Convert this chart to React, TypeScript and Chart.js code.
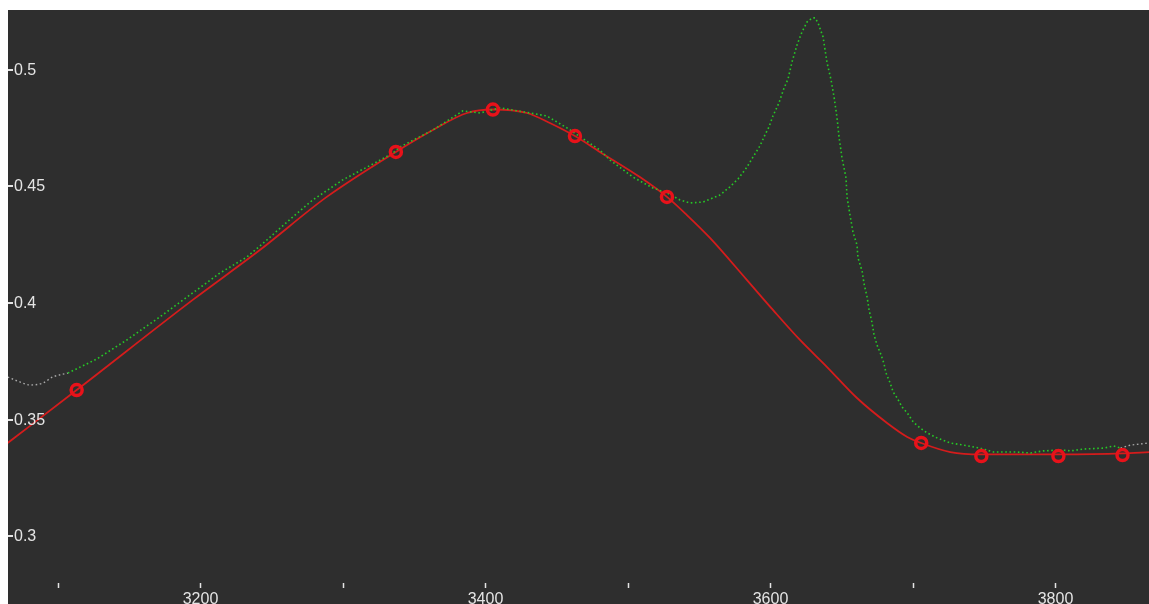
import React, { useEffect, useRef } from "react";
import { Chart, registerables } from "chart.js";

Chart.register(...registerables);

// Axis ranges
const X_MIN = 3065;
const X_MAX = 3866;
const Y_MIN = 0.2704;
const Y_MAX = 0.5253;

// Tick positions
const xTicks = [3100, 3200, 3300, 3400, 3500, 3600, 3700, 3800];
const xTickLabels = [3200, 3400, 3600, 3800];
const yTicks = [0.3, 0.35, 0.4, 0.45, 0.5];

// Measured signal (green dotted)
const measX = [
  3107.0, 3127.3, 3148.4, 3171.6, 3194.7, 3213.7, 3232.7, 3246.7, 3264.9, 3279.0,
  3300.0, 3323.9, 3335.2, 3340.1, 3363.3, 3384.3, 3396.3, 3410.3, 3431.4, 3443.3,
  3457.4, 3480.5, 3487.6, 3503.7, 3517.8, 3527.6, 3536.7, 3543.8, 3552.9, 3564.8,
  3571.8, 3577.5, 3583.8, 3588.0, 3592.9, 3596.4, 3599.2, 3602.0, 3606.2, 3609.8,
  3612.6, 3615.4, 3618.9, 3622.4, 3626.0, 3629.5, 3631.6, 3633.7, 3637.2, 3640.0,
  3642.8, 3644.9, 3647.0, 3648.4, 3650.5, 3653.3, 3654.0, 3656.1, 3658.2, 3661.0,
  3661.7, 3664.6, 3666.0, 3668.1, 3669.5, 3671.6, 3673.0, 3675.1, 3677.9, 3680.0,
  3681.4, 3684.3, 3686.4, 3689.2, 3692.7, 3696.3, 3700.5, 3705.4, 3710.3, 3717.4,
  3726.5, 3735.7, 3747.6, 3756.8, 3773.7, 3782.8, 3791.9, 3803.9, 3810.9, 3820.0,
  3834.1, 3841.1, 3846.0,
];
const measY = [
  0.3695, 0.3755, 0.3837, 0.3936, 0.4039, 0.4124, 0.4193, 0.4266, 0.4365, 0.4438,
  0.4524, 0.4601, 0.4639, 0.4665, 0.4738, 0.482, 0.4811, 0.4833, 0.4811, 0.4798,
  0.4747, 0.4652, 0.4609, 0.4536, 0.4489, 0.4468, 0.4438, 0.4425, 0.4429, 0.4459,
  0.4494, 0.4528, 0.4579, 0.4622, 0.467, 0.4717, 0.4751, 0.4798, 0.4854, 0.4918,
  0.4957, 0.503, 0.5103, 0.5159, 0.5202, 0.5219, 0.5219, 0.5197, 0.5137, 0.5026,
  0.4953, 0.488, 0.479, 0.4708, 0.4618, 0.4532, 0.4451, 0.4373, 0.43, 0.4245,
  0.4189, 0.4133, 0.4077, 0.4021, 0.3966, 0.391, 0.3858, 0.3815, 0.3773, 0.3734,
  0.3695, 0.3652, 0.3614, 0.3588, 0.3549, 0.3524, 0.3485, 0.3459, 0.3438, 0.3416,
  0.3395, 0.3386, 0.3373, 0.3356, 0.3356, 0.3352, 0.3361, 0.3365, 0.3361, 0.3369,
  0.3373, 0.3382, 0.3373,
];

// Signal outside the fitted window (grey dotted)
const outLeftX = [3064.8, 3073.3, 3080.3, 3089.4, 3096.4, 3107.0];
const outLeftY = [0.3678, 0.3657, 0.3644, 0.3652, 0.3678, 0.3695];
const outRightX = [3846.0, 3853.1, 3866.1];
const outRightY = [0.3373, 0.3386, 0.3395];

// Fitted curve (red)
const fitX = [
  3064.8, 3113.2, 3194.7, 3241.8, 3288.8, 3337.3, 3363.3, 3387.2, 3405.4, 3429.3,
  3445.4, 3463.0, 3480.5, 3508.6, 3527.6, 3541.6, 3557.8, 3583.8, 3602.0, 3621.0,
  3640.0, 3661.0, 3682.1, 3696.3, 3706.1, 3726.5, 3748.3, 3802.4, 3847.4, 3866.1,
];
const fitY = [
  0.3395, 0.3622, 0.4009, 0.4223, 0.4451, 0.4644, 0.4738, 0.4811, 0.4826, 0.4811,
  0.4768, 0.4712, 0.4644, 0.4536, 0.4451, 0.4373, 0.4275, 0.4094, 0.3966, 0.3837,
  0.3721, 0.3588, 0.3481, 0.3421, 0.3395, 0.3356, 0.3346, 0.3346, 0.335, 0.3356,
];

// Fit knots (red rings)
const knotX = [3113.2, 3337.3, 3405.4, 3463.0, 3527.6, 3706.1, 3748.3, 3802.4, 3847.4];
const knotY = [0.3622, 0.4644, 0.4826, 0.4712, 0.4451, 0.3395, 0.3339, 0.3339, 0.3343];

const zip = (xs: number[], ys: number[]) => xs.map((x, i) => ({ x, y: ys[i] }));

const BG = "#2e2e2e";
const TEXT = "#e4e4e4";
const FONT = '16px "Liberation Sans", Arial, sans-serif';

const backgroundPlugin = {
  id: "darkBackground",
  beforeDraw(chart: any) {
    const { ctx, width, height } = chart;
    ctx.save();
    ctx.fillStyle = BG;
    ctx.fillRect(0, 0, width, height);
    ctx.restore();
  },
};

const axisPlugin = {
  id: "insideAxes",
  afterDatasetsDraw(chart: any) {
    const { ctx, chartArea, scales } = chart;
    const xs = scales.x;
    const ys = scales.y;
    ctx.save();
    ctx.strokeStyle = TEXT;
    ctx.fillStyle = TEXT;
    ctx.lineWidth = 2;
    ctx.font = FONT;

    // y ticks: short dash at the left edge followed by the value
    ctx.textAlign = "left";
    ctx.textBaseline = "middle";
    for (const v of yTicks) {
      const py = Math.round(ys.getPixelForValue(v)) + 1;
      ctx.beginPath();
      ctx.moveTo(chartArea.left, py);
      ctx.lineTo(chartArea.left + 5, py);
      ctx.stroke();
      ctx.fillText(String(v), chartArea.left + 6, py + 1);
    }

    // x ticks: small marks near the bottom, labels every 200
    ctx.lineWidth = 1.5;
    ctx.textAlign = "center";
    ctx.textBaseline = "top";
    const tickTop = chartArea.bottom - 21;
    for (const v of xTicks) {
      const px = Math.round(xs.getPixelForValue(v)) + 0.5;
      ctx.beginPath();
      ctx.moveTo(px, tickTop);
      ctx.lineTo(px, tickTop + 5);
      ctx.stroke();
      if (xTickLabels.includes(v)) {
        ctx.fillText(String(v), px, chartArea.bottom - 12);
      }
    }
    ctx.restore();
  },
};

export default function App() {
  const canvasRef = useRef<HTMLCanvasElement | null>(null);

  useEffect(() => {
    const canvas = canvasRef.current;
    if (!canvas) return;
    document.documentElement.style.overflow = "hidden";
    document.body.style.overflow = "hidden";
    const chart = new Chart(canvas, {
      type: "line",
      data: {
        datasets: [
          {
            label: "knots",
            data: zip(knotX, knotY),
            showLine: false,
            pointStyle: "circle",
            pointRadius: 5.5,
            pointBorderWidth: 3.5,
            pointBorderColor: "#e8121a",
            pointBackgroundColor: "rgba(0,0,0,0)",
          },
          {
            label: "measured",
            data: zip(measX, measY),
            borderColor: "#26c826",
            borderWidth: 1.6,
            borderDash: [1.6, 2.6],
            pointRadius: 0,
            tension: 0,
          },
          {
            label: "outside-left",
            data: zip(outLeftX, outLeftY),
            borderColor: "#a8a8a8",
            borderWidth: 1.4,
            borderDash: [1.6, 2.6],
            pointRadius: 0,
            cubicInterpolationMode: "monotone",
          },
          {
            label: "outside-right",
            data: zip(outRightX, outRightY),
            borderColor: "#a8a8a8",
            borderWidth: 1.4,
            borderDash: [1.6, 2.6],
            pointRadius: 0,
          },
          {
            label: "fit",
            data: zip(fitX, fitY),
            borderColor: "#d41c1c",
            borderWidth: 1.8,
            pointRadius: 0,
            cubicInterpolationMode: "monotone",
          },
        ],
      },
      options: {
        animation: false,
        responsive: false,
        devicePixelRatio: 1,
        layout: { padding: 0, autoPadding: false },
        plugins: {
          legend: { display: false },
          tooltip: { enabled: false },
        },
        events: [],
        scales: {
          x: { type: "linear", min: X_MIN, max: X_MAX, display: false },
          y: { type: "linear", min: Y_MIN, max: Y_MAX, display: false },
        },
      },
      plugins: [backgroundPlugin, axisPlugin],
    });
    return () => chart.destroy();
  }, []);

  return (
    <div style={{ position: "fixed", left: 8, top: 10, width: 1141, height: 594 }}>
      <canvas ref={canvasRef} width={1141} height={594} style={{ display: "block" }} />
    </div>
  );
}
